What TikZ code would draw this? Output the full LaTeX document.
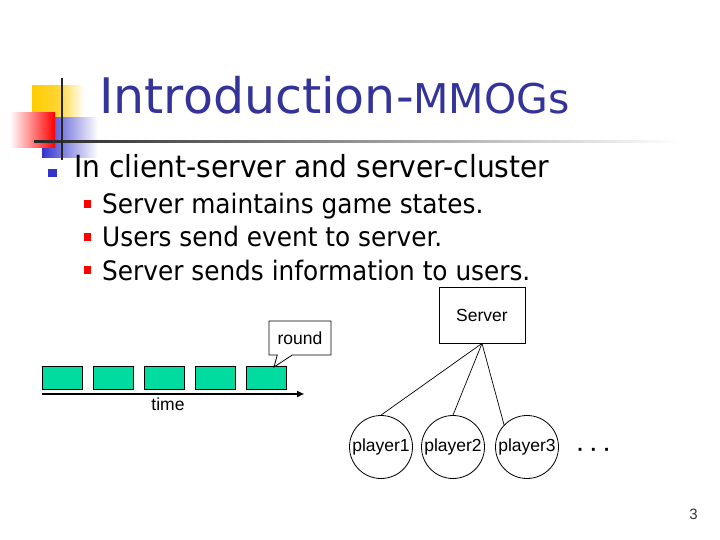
\documentclass[tikz,border=0pt]{standalone}
\usepackage{fontspec}
\setmainfont{DejaVu Sans}
\newfontfamily\titlef{DejaVu Sans}
\newfontfamily\bodyf[FakeStretch=0.925]{DejaVu Sans}
\newfontfamily\subf[FakeStretch=0.925]{DejaVu Sans}
\newfontfamily\arialf{Liberation Sans}
\usetikzlibrary{arrows.meta,shapes.callouts}
\definecolor{navy}{HTML}{333399}
\definecolor{bblue}{HTML}{3333CC}
\definecolor{byellow}{HTML}{FFCC00}
\definecolor{bred}{HTML}{FF0000}
\definecolor{tgreen}{HTML}{00DCA0}
\begin{document}
\begin{tikzpicture}[x=1pt,y=-1pt,
  txt/.style={inner sep=0pt,anchor=base west},
  roundbox/.style={draw=black,fill=tgreen,line width=0.8pt,minimum width=40pt,minimum height=23pt,inner sep=0pt},
  lbl/.style={font=\arialf\fontsize{17.5}{20}\selectfont},
  player/.style={circle,draw=black,line width=0.8pt,minimum size=63pt,inner sep=0pt,lbl},
  link/.style={draw=black,line width=0.7pt}]
\useasboundingbox (0,0) rectangle (720,540);
% decoration
\shade[left color=byellow,right color=white,middle color=byellow!80] (32,86) rectangle (84,120);
\shade[left color=bblue,right color=white] (42,118) rectangle (98,158);
\shade[shading angle=45,left color=white,right color=bred] (10,113) rectangle (55,148);
\shade[left color=black!85,right color=white] (34,140.2) rectangle (680,142.2);
\fill[black!85] (60.5,78) rectangle (62.5,160);
% title
\node[txt,text=navy] (title) at (99,114) {\titlef\fontsize{49}{56}\selectfont Introduction-\fontsize{41}{48}\selectfont MMOGs};
% bullets
\fill[bblue] (48,169) rectangle (57,177);
\node[txt] (b0) at (74,178) {\bodyf\fontsize{30.4}{36}\selectfont In client-server and server-cluster};
\fill[bred] (84,200) rectangle (91,208);
\fill[bred] (84,233) rectangle (91,241);
\fill[bred] (84,266) rectangle (91,274);
\node[txt] (b1) at (102,214) {\subf\fontsize{26.8}{32}\selectfont Server maintains game states.};
\node[txt] (b2) at (102,247) {\subf\fontsize{26.8}{32}\selectfont Users send event to server.};
\node[txt] (b3) at (102,280) {\subf\fontsize{26.8}{32}\selectfont Server sends information to users.};
% timeline
\foreach \i in {0,...,4} {
  \node[roundbox] (t\i) at ({62.5+51*\i},377.5) {};
}
\coordinate (tstart) at (42,394);
\coordinate (tend) at (304,394);
\draw[line width=2pt,-{Triangle[length=7pt,width=6pt]}] (tstart) -- (tend);
\node[lbl,inner sep=0pt] (time) at (168,404) {time};
\node[rectangle callout,draw=black,fill=white,line width=0.8pt,lbl,minimum width=62pt,minimum height=34pt,inner sep=0pt,
  callout absolute pointer={(274,367)},callout pointer width=15pt] (round) at (300,338) {round};
% server tree
\node[draw=black,line width=0.8pt,minimum width=86pt,minimum height=56pt,inner sep=0pt,lbl] (server) at (482,315) {Server};
\node[player] (p1) at (381,447) {player1};
\node[player] (p2) at (453,447) {player2};
\node[player] (p3) at (527,447) {player3};
\draw[link] (server.south) -- (p1.north);
\draw[link] (server.south) -- (p2.north);
\draw[link] (server.south) -- (p3.136);
\node[font=\arialf\fontsize{20}{24}\selectfont\bfseries,inner sep=0pt] (dots) at (594,452) {·\,\,·\,\,·};
\node[font=\arialf\fontsize{15}{18}\selectfont,inner sep=0pt,text=black!80] (pg) at (693.5,514) {3};
\end{tikzpicture}
\end{document}
